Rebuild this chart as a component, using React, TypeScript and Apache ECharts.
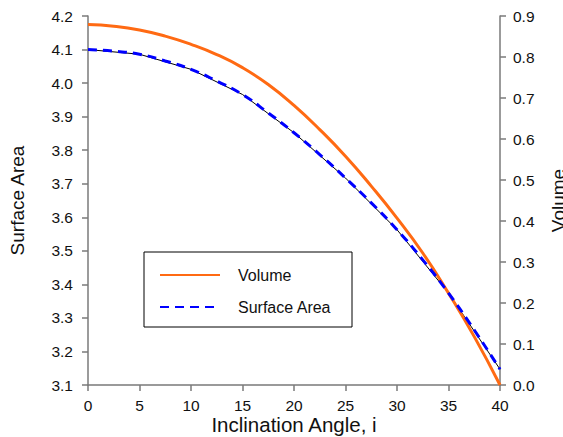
import React, { useEffect, useRef } from "react";
import * as echarts from "echarts";

// Inclination angle (x), at 2.5 steps
const angles = [0, 2.5, 5, 7.5, 10, 12.5, 15, 17.5, 20, 22.5, 25, 27.5, 30, 32.5, 35, 37.5, 40];
// Volume (right axis)
const volume = [0.879, 0.875, 0.866, 0.851, 0.831, 0.806, 0.774, 0.733, 0.682, 0.623, 0.558, 0.485, 0.407, 0.322, 0.224, 0.118, 0.0];
// Surface area (left axis)
const surfaceArea = [4.1, 4.095, 4.086, 4.066, 4.041, 4.006, 3.966, 3.911, 3.852, 3.787, 3.717, 3.643, 3.563, 3.473, 3.374, 3.264, 3.147];
// Coarse surface-area polyline (5-degree steps)
const anglesCoarse = [0, 5, 10, 15, 20, 25, 30, 35, 40];
const surfaceAreaCoarse = [4.1, 4.086, 4.041, 3.966, 3.852, 3.717, 3.563, 3.374, 3.147];

const FONT = "'Liberation Sans', Arial, Helvetica, sans-serif";
const AXIS_GRAY = "#7a7a7a";

export default function App() {
  const ref = useRef<HTMLDivElement>(null);
  useEffect(() => {
    if (!ref.current) return;
    const chart = echarts.init(ref.current, undefined, { renderer: "svg" });
    const axisCommon = {
      axisLine: { show: true, lineStyle: { color: AXIS_GRAY, width: 1.5 } },
      axisTick: { show: true, length: 6, lineStyle: { color: AXIS_GRAY, width: 1.5 } },
      splitLine: { show: false },
      nameMoveOverlap: false,
    };
    chart.setOption({
      animation: false,
      backgroundColor: "#ffffff",
      textStyle: { fontFamily: FONT },
      grid: { left: 88, right: 63, top: 16, bottom: 52, containLabel: false, outerBoundsMode: "none" },
      xAxis: {
        type: "value",
        min: 0,
        max: 40,
        interval: 5,
        name: "Inclination Angle, i",
        nameLocation: "middle",
        nameGap: 29,
        nameTextStyle: { fontSize: 20.5, color: "#111", fontFamily: FONT },
        axisLabel: { fontSize: 15.5, color: "#111", margin: 12, fontFamily: FONT },
        ...axisCommon,
      },
      yAxis: [
        {
          type: "value",
          position: "left",
          min: 3.1,
          max: 4.2,
          interval: 0.1,
          name: "Surface Area",
          nameLocation: "middle",
          nameGap: 61,
          nameRotate: 90,
          nameTextStyle: { fontSize: 19, color: "#111", fontFamily: FONT },
          axisLabel: {
            fontSize: 15.5,
            color: "#111",
            margin: 15,
            fontFamily: FONT,
            formatter: (v: number) => v.toFixed(1),
          },
          ...axisCommon,
        },
        {
          type: "value",
          position: "right",
          min: 0,
          max: 0.9,
          interval: 0.1,
          name: "Volume",
          nameLocation: "middle",
          nameGap: 49,
          nameRotate: 90,
          nameTextStyle: { fontSize: 19, color: "#111", fontFamily: FONT },
          axisLabel: {
            fontSize: 15.5,
            color: "#111",
            margin: 13,
            fontFamily: FONT,
            formatter: (v: number) => v.toFixed(1),
          },
          ...axisCommon,
        },
      ],
      legend: {
        data: ["Volume", "Surface Area"],
        orient: "vertical",
        left: 159,
        top: 267,
        padding: 0,
        itemWidth: 60,
        itemHeight: 14,
        itemGap: 16,
        itemStyle: { opacity: 0 },
        textStyle: { fontSize: 16, color: "#111", fontFamily: FONT, padding: [0, 0, 0, 13] },
      },
      graphic: [
        {
          type: "rect",
          shape: { x: 144, y: 252, width: 208, height: 75 },
          style: { fill: "none", stroke: "#000", lineWidth: 1 },
          silent: true,
        },
      ],
      series: [
        {
          name: "Volume",
          type: "line",
          yAxisIndex: 1,
          data: angles.map((a, i) => [a, volume[i]]),
          smooth: true,
          symbol: "none",
          lineStyle: { color: "#ff6a13", width: 3 },
          itemStyle: { color: "#ff6a13" },
          z: 3,
        },
        {
          name: "SA-line",
          type: "line",
          yAxisIndex: 0,
          data: anglesCoarse.map((a, i) => [a, surfaceAreaCoarse[i]]),
          smooth: false,
          symbol: "none",
          lineStyle: { color: "#000", width: 1 },
          itemStyle: { color: "#000" },
          silent: true,
          z: 2,
        },
        {
          name: "Surface Area",
          type: "line",
          yAxisIndex: 0,
          data: angles.map((a, i) => [a, surfaceArea[i]]),
          smooth: true,
          symbol: "none",
          lineStyle: { color: "#0000ff", width: 3, type: [9, 6] },
          itemStyle: { color: "#0000ff" },
          z: 4,
        },
      ],
    });
    return () => chart.dispose();
  }, []);
  return (
    <div
      ref={ref}
      style={{ position: "fixed", left: 0, top: 0, width: 563, height: 437, background: "#fff" }}
    />
  );
}
